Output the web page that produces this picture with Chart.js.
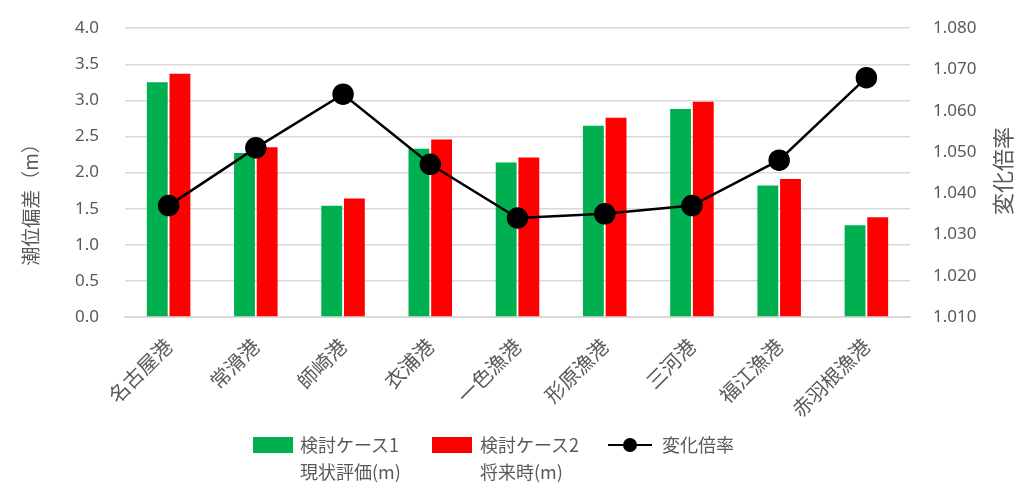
<!DOCTYPE html>
<html>
<head>
<meta charset="utf-8">
<script src="https://cdn.jsdelivr.net/npm/chart.js@4.4.0/dist/chart.umd.min.js"></script>
<style>
  body { margin: 0; background: #fff; overflow: hidden; }
  #wrap { position: relative; width: 1014px; height: 484px; overflow: hidden; font-family: "Noto Sans CJK JP", sans-serif; color: #595959; }
  #tideChart { position: absolute; left: 0; top: -8px; }
  #legend { position: absolute; left: 0; top: 0; width: 1014px; height: 484px; pointer-events: none; font-size: 18px; }
  .box { position: absolute; width: 40px; height: 16px; }
  .txt { position: absolute; line-height: 27px; white-space: nowrap; }
  .ln { position: absolute; height: 2px; background: #000; }
  .dot { position: absolute; width: 14px; height: 14px; border-radius: 50%; background: #000; }
</style>
</head>
<body>
<div id="wrap">
  <canvas id="tideChart" width="1014" height="492"></canvas>
  <div id="legend">
    <div class="box" style="left:253px;top:437px;background:#00b050"></div>
    <div class="txt" style="left:300px;top:431px">検討ケース1<br>現状評価(m)</div>
    <div class="box" style="left:432px;top:437px;background:#ff0000"></div>
    <div class="txt" style="left:480px;top:431px">検討ケース2<br>将来時(m)</div>
    <div class="ln" style="left:608px;top:444px;width:44px"></div>
    <div class="dot" style="left:623px;top:438px"></div>
    <div class="txt" style="left:662px;top:431px">変化倍率</div>
  </div>
</div>
<script>
// ports
const ports = ["名古屋港", "常滑港", "師崎港", "衣浦港", "一色漁港", "形原漁港", "三河港", "福江漁港", "赤羽根漁港"];
// tide deviation (m)
const case1Now = [3.25, 2.27, 1.54, 2.33, 2.14, 2.65, 2.88, 1.82, 1.27];
const case2Future = [3.37, 2.35, 1.64, 2.46, 2.21, 2.76, 2.98, 1.91, 1.38];
// ratio
const ratio = [1.037, 1.051, 1.064, 1.047, 1.034, 1.035, 1.037, 1.048, 1.068];

const labelFont = { family: "'Noto Sans', sans-serif", size: 17 };
const gridColor = "#d9d9d9";

// axis titles drawn by hand (both read bottom-to-top); canvas sits 8px higher than page
const axisTitles = {
  id: 'axisTitles',
  afterDraw(chart) {
    const ctx = chart.ctx;
    ctx.save();
    ctx.fillStyle = "#595959";
    ctx.textAlign = "center";
    ctx.textBaseline = "middle";
    ctx.font = "19px 'Noto Sans CJK JP'";
    ctx.translate(31, 208);
    ctx.rotate(-Math.PI / 2);
    ctx.fillText("潮位偏差（m）", 0, 0);
    ctx.restore();
    ctx.save();
    ctx.fillStyle = "#595959";
    ctx.textAlign = "center";
    ctx.textBaseline = "middle";
    ctx.font = "22px 'Noto Sans CJK JP'";
    ctx.translate(1003, 179);
    ctx.rotate(-Math.PI / 2);
    ctx.fillText("変化倍率", 0, 0);
    ctx.restore();
  }
};

const config = {
  data: {
    labels: ports,
    datasets: [
      {
        type: 'line',
        label: "変化倍率",
        data: ratio,
        yAxisID: 'y1',
        borderColor: "#000",
        backgroundColor: "#000",
        borderWidth: 2.5,
        pointRadius: 9.5,
        pointBackgroundColor: "#000",
        order: 0
      },
      {
        type: 'bar',
        label: "検討ケース1 現状評価(m)",
        data: case1Now,
        yAxisID: 'y',
        backgroundColor: "#00b050",
        barPercentage: 0.92,
        categoryPercentage: 0.52,
        order: 1
      },
      {
        type: 'bar',
        label: "検討ケース2 将来時(m)",
        data: case2Future,
        yAxisID: 'y',
        backgroundColor: "#ff0000",
        barPercentage: 0.92,
        categoryPercentage: 0.52,
        order: 1
      }
    ]
  },
  options: {
    responsive: false,
    animation: false,
    layout: { padding: { top: 16, left: 0, right: 0, bottom: 0 } },
    plugins: {
      legend: { display: false },
      tooltip: { enabled: false }
    },
    scales: {
      x: {
        grid: { display: false, drawTicks: false },
        border: { color: gridColor, width: 2 },
        ticks: {
          color: "#595959",
          font: { family: "'Noto Sans CJK JP', sans-serif", size: 20 },
          minRotation: 45,
          maxRotation: 45,
          padding: 17
        },
        afterFit: (s) => { s.height = 167; }
      },
      y: {
        position: 'left',
        min: 0,
        max: 4,
        ticks: {
          stepSize: 0.5,
          color: "#595959",
          font: labelFont,
          padding: 26,
          callback: (v) => v.toFixed(1)
        },
        grid: { color: gridColor, lineWidth: 1.5, drawTicks: false },
        border: { display: false },
        afterFit: (s) => { s.width = 125; }
      },
      y1: {
        position: 'right',
        min: 1.01,
        max: 1.08,
        ticks: {
          stepSize: 0.01,
          color: "#595959",
          font: labelFont,
          padding: 23,
          callback: (v) => v.toFixed(3)
        },
        grid: { display: false, drawTicks: false },
        border: { display: false },
        afterFit: (s) => { s.width = 104; }
      }
    }
  },
  plugins: [axisTitles]
};

window.addEventListener('DOMContentLoaded', () => {
  new Chart(document.getElementById("tideChart"), config);
});
</script>
</body>
</html>
